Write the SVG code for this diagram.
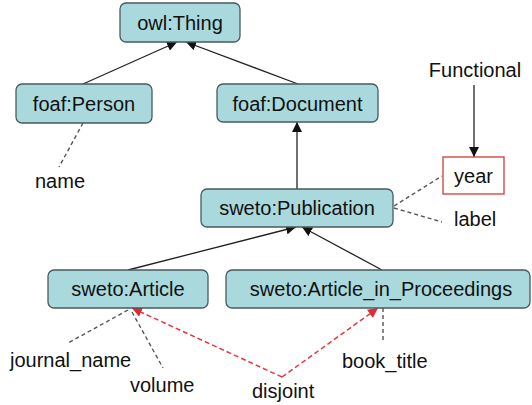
<svg xmlns="http://www.w3.org/2000/svg" width="532" height="405" viewBox="0 0 532 405">
  <defs>
    <marker id="arrow" viewBox="0 0 10 10" refX="10" refY="5" markerWidth="10" markerHeight="10" markerUnits="userSpaceOnUse" orient="auto">
      <path d="M0,0 L10,5 L0,10 z" fill="#111"/>
    </marker>
    <marker id="arrow-red" viewBox="0 0 10 10" refX="10" refY="5" markerWidth="10" markerHeight="10" markerUnits="userSpaceOnUse" orient="auto">
      <path d="M0,0 L10,5 L0,10 z" fill="#e8262b"/>
    </marker>
    <style>
      .cls rect { fill: #a9d9dc; stroke: #4a5a5c; stroke-width: 1.3; }
      text { font-family: "Liberation Sans", Arial, sans-serif; font-size: 20px; fill: #111; }
      .c { text-anchor: middle; }
      .sub { stroke: #222; stroke-width: 1.3; fill: none; marker-end: url(#arrow); }
      .prop { stroke: #555; stroke-width: 1.4; stroke-dasharray: 4 3; fill: none; }
      .disj { stroke: #e8363a; stroke-width: 1.5; stroke-dasharray: 5 3; fill: none; marker-end: url(#arrow-red); }
    </style>
  </defs>
  <rect width="532" height="405" fill="#fff"/>

  <!-- connectors -->
  <g id="connectors">
    <line class="sub" x1="83" y1="84" x2="177" y2="42"/>
    <line class="sub" x1="298" y1="84" x2="186" y2="42"/>
    <line class="sub" x1="297" y1="189" x2="297" y2="122"/>
    <line class="sub" x1="128" y1="270" x2="296" y2="227"/>
    <line class="sub" x1="382" y1="270" x2="302" y2="227"/>
    <line class="sub" x1="474" y1="85" x2="474" y2="157"/>
    <line class="prop" x1="83" y1="123" x2="59" y2="167"/>
    <line class="prop" x1="394" y1="206" x2="442" y2="176"/>
    <line class="prop" x1="394" y1="208" x2="442" y2="222"/>
    <line class="prop" x1="128" y1="310" x2="68" y2="343"/>
    <line class="prop" x1="132" y1="312" x2="163" y2="368"/>
    <line class="prop" x1="383" y1="308" x2="383" y2="343"/>
    <polyline class="disj" points="282,377 132,308"/>
    <polyline class="disj" points="282,377 378,308"/>
  </g>

  <!-- class nodes -->
  <g id="owl-thing" class="cls">
    <rect x="120" y="3" width="120" height="39" rx="6"/>
    <text class="c" x="180" y="30">owl:Thing</text>
  </g>
  <g id="foaf-person" class="cls">
    <rect x="16" y="84" width="136" height="39" rx="6"/>
    <text class="c" x="84" y="111">foaf:Person</text>
  </g>
  <g id="foaf-document" class="cls">
    <rect x="217" y="84" width="161" height="38" rx="6"/>
    <text class="c" x="297.5" y="111">foaf:Document</text>
  </g>
  <g id="sweto-publication" class="cls">
    <rect x="201" y="189" width="192" height="38" rx="6"/>
    <text class="c" x="297" y="215">sweto:Publication</text>
  </g>
  <g id="sweto-article" class="cls">
    <rect x="48" y="270" width="160" height="38" rx="6"/>
    <text class="c" x="128" y="296">sweto:Article</text>
  </g>
  <g id="sweto-article-in-proceedings" class="cls">
    <rect x="226" y="270" width="304" height="38" rx="6"/>
    <text class="c" x="381" y="296">sweto:Article_in_Proceedings</text>
  </g>

  <!-- property nodes -->
  <g id="year">
    <rect x="443" y="157" width="61" height="37" fill="#fff" stroke="#d04a4a" stroke-width="1.4"/>
    <text class="c" x="473.5" y="183">year</text>
  </g>
  <g id="functional"><text class="c" x="475" y="77">Functional</text></g>
  <g id="name"><text x="35" y="188">name</text></g>
  <g id="label"><text x="454" y="226">label</text></g>
  <g id="journal-name"><text x="10" y="367">journal_name</text></g>
  <g id="volume"><text x="130" y="392">volume</text></g>
  <g id="book-title"><text x="342" y="368">book_title</text></g>
  <g id="disjoint"><text x="252" y="398">disjoint</text></g>
</svg>
